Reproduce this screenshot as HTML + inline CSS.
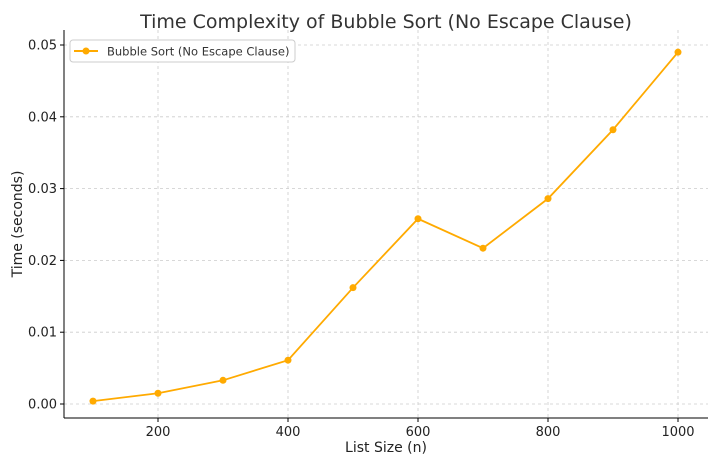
<!DOCTYPE html>
<html><head><meta charset="utf-8"><style>
body{margin:0;background:#fff;font-family:"DejaVu Sans","Liberation Sans",sans-serif;}
</style></head><body>
<svg id="chart" width="725" height="461" xmlns="http://www.w3.org/2000/svg">
<text x="386" y="28" text-anchor="middle" font-size="19" fill="#333">Time Complexity of Bubble Sort (No Escape Clause)</text>
<g id="grid"></g>
<g id="axes"></g>
<g id="series"></g>
<text x="386" y="452" text-anchor="middle" font-size="14" fill="#222">List Size (n)</text>
<text transform="translate(22,224) rotate(-90)" text-anchor="middle" font-size="14" fill="#222">Time (seconds)</text>
<g>
<rect x="70" y="40" width="225" height="22" fill="#fff" stroke="#ccc" rx="3"/>
<line x1="74" y1="51" x2="98" y2="51" stroke="#FFAA00" stroke-width="2"/>
<circle cx="86" cy="51" r="3.5" fill="#FFAA00"/>
<text x="107" y="55.5" font-size="11.5" fill="#333">Bubble Sort (No Escape Clause)</text>
</g>
</svg>
<script>
const sizes=[100,200,300,400,500,600,700,800,900,1000];
const times=[0.0004,0.0015,0.0033,0.0061,0.0162,0.0258,0.0217,0.0286,0.0382,0.049];
const xTicks=[200,400,600,800,1000];
const yTicks=[0,0.01,0.02,0.03,0.04,0.05];
const yTickLabels=["0.00","0.01","0.02","0.03","0.04","0.05"];
const L=64,R=708,T=30,B=418;
function sx(v){return 93+(v-100)*0.65;}
function sy(v){return 404-v*7180;}
const NS="http://www.w3.org/2000/svg";
function mk(t,a,p){const e=document.createElementNS(NS,t);for(const k in a)e.setAttribute(k,a[k]);p.appendChild(e);return e;}
const grid=document.getElementById('grid'),axes=document.getElementById('axes'),ser=document.getElementById('series');
xTicks.forEach(v=>{const x=sx(v);
 const g=mk('line',{x1:x,x2:x,y1:T,y2:B,stroke:'#ccc','stroke-dasharray':'3,3','stroke-width':0.8},grid);
 
 
 mk('line',{x1:x,x2:x,y1:B,y2:B+4,stroke:'#000'},axes);
 const t=mk('text',{x:x,y:B+18,'text-anchor':'middle','font-size':13,fill:'#222'},axes);t.textContent=v;
 
 
});
yTicks.forEach((v,i)=>{const y=sy(v);
 const g=mk('line',{x1:L,x2:R,y1:y,y2:y,stroke:'#ccc','stroke-dasharray':'3,3','stroke-width':0.8},grid);
 
 
 mk('line',{x1:L-4,x2:L,y1:y,y2:y,stroke:'#000'},axes);
 const t=mk('text',{x:L-7,y:y+4.5,'text-anchor':'end','font-size':13,fill:'#222'},axes);t.textContent=yTickLabels[i];
 
 
});
const la=mk('line',{x1:L,x2:L,y1:T,y2:B,stroke:'#000','stroke-width':1},axes);


const ba=mk('line',{x1:L,x2:R,y1:B,y2:B,stroke:'#000','stroke-width':1},axes);


const pl=mk('polyline',{points:sizes.map((s,i)=>sx(s)+','+sy(times[i])).join(' '),fill:'none',stroke:'#FFAA00','stroke-width':1.8},ser);


sizes.forEach((s,i)=>{const c=mk('circle',{cx:sx(s),cy:sy(times[i]),r:3.5,fill:'#FFAA00'},ser);
 
 
});
</script>
</body></html>
